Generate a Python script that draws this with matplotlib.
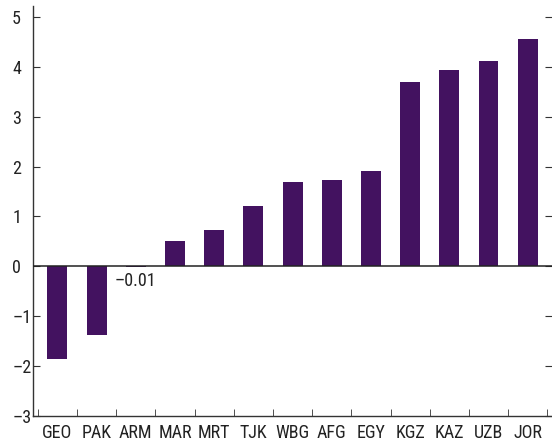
import numpy as np
import matplotlib.pyplot as plt
from matplotlib.ticker import FixedLocator

plt.rcParams['font.family'] = ['Liberation Sans Narrow', 'Roboto Condensed', 'Liberation Sans', 'DejaVu Sans']

paises = ['GEO', 'PAK', 'ARM', 'MAR', 'MRT', 'TJK', 'WBG', 'AFG', 'EGY', 'KGZ', 'KAZ', 'UZB', 'JOR']
valores = [-1.87, -1.38, -0.01, 0.50, 0.72, 1.20, 1.69, 1.73, 1.91, 3.69, 3.94, 4.12, 4.56]
etiqueta_arm = '\u20130.01'

x = np.arange(len(paises))

fig = plt.figure(figsize=(5.52, 4.43), dpi=100)
ax = fig.add_axes([0.0598, 0.062, 0.9402, 0.924])

ax.bar(x, valores, width=0.51, color='#431260', zorder=2)
ax.axhline(0, color='#222222', lw=1.1, zorder=3)
ax.text(2, -0.30, etiqueta_arm, ha='center', va='center', fontsize=13, color='#222222')

ax.set_xlim(-0.62, 12.62)
ax.set_ylim(-3, 5.22)
ax.set_yticks(range(-3, 6))
ax.set_yticklabels([str(v).replace('-', '\u2013') for v in range(-3, 6)])
for lab in ax.get_yticklabels():
    lab.set_horizontalalignment('left')

ax.set_xticks(x)
ax.set_xticklabels(paises)
ax.xaxis.set_minor_locator(FixedLocator(np.arange(-0.5, 13, 1)))

for s in ['top', 'right']:
    ax.spines[s].set_visible(False)
for s in ['left', 'bottom']:
    ax.spines[s].set_color('#333333')
    ax.spines[s].set_linewidth(1.0)

ax.tick_params(axis='x', which='major', length=0, pad=6, labelsize=13, colors='#222222')
ax.tick_params(axis='x', which='minor', direction='in', length=5, color='#333333')
ax.tick_params(axis='y', which='major', direction='in', length=5, pad=15, labelsize=13,
               right=True, color='#333333', labelcolor='#222222')

fig.savefig('out.png', dpi=100)
